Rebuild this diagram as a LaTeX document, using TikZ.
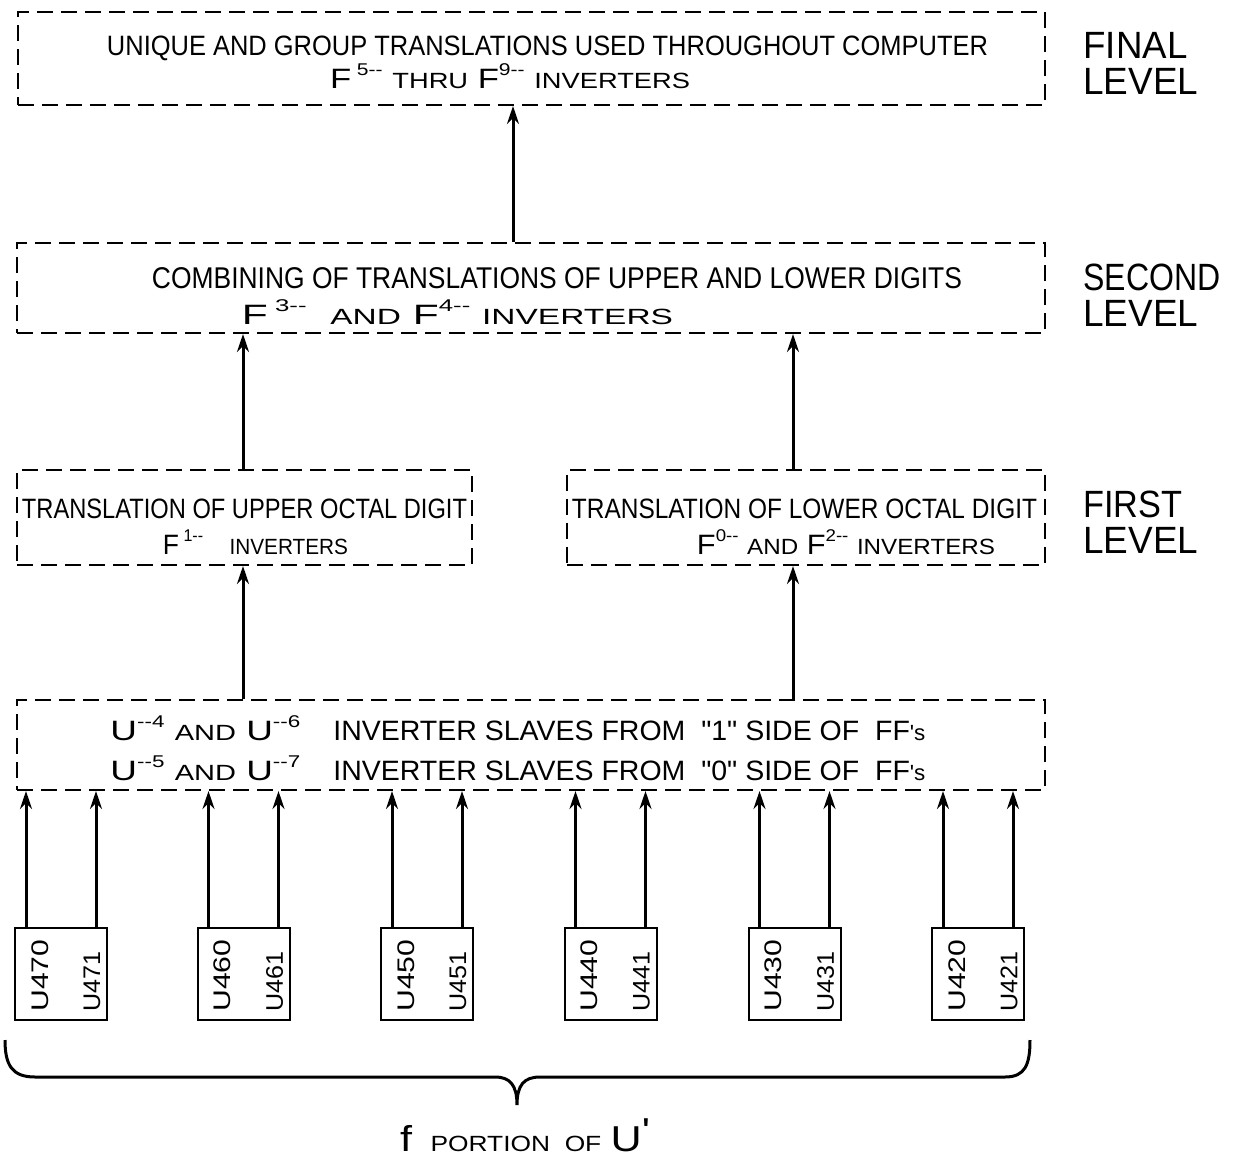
\documentclass[tikz,border=0pt]{standalone}
\usepackage{fontspec}
\setmainfont{Liberation Sans}
\newfontfamily\rawfont[Ligatures=TeXOff]{Liberation Sans}
\usepackage{graphicx}
\usetikzlibrary{arrows.meta}
\newcommand{\fitw}[2]{\resizebox{#1}{\height}{#2}}
\newcommand{\sm}[1]{{\fontsize{11}{12}\selectfont #1}}
\newcommand{\sps}[1]{\raisebox{0.45em}{\fontsize{8.5}{9}\selectfont #1}}
\newcommand{\dq}{{\rawfont"}}
\newcommand{\sq}{{\rawfont'}}
\tikzset{
  dbox/.style={draw, dash pattern=on 8pt off 4pt, line width=1pt, inner sep=0pt},
  chipbox/.style={draw, line width=1pt, inner sep=0pt, minimum width=46pt, minimum height=46pt},
  arr/.style={-{Stealth[length=9pt,width=6pt]}, line width=1.5pt},
  txt/.style={inner sep=0pt, anchor=base, font=\fontsize{14}{16}\selectfont},
  lvl/.style={inner sep=0pt, anchor=base west, font=\fontsize{19}{21}\selectfont},
  clabel/.style={inner sep=0pt, anchor=west, rotate=90, font=\fontsize{12}{13}\selectfont},
}
\begin{document}
\begin{tikzpicture}[x=0.5pt,y=-0.5pt]
\useasboundingbox (0,0) rectangle (1233,1158);

% boxes
\node[dbox, minimum width=513.5pt, minimum height=46.5pt] (fin) at (531.5,58.5) {};
\node[dbox, minimum width=514pt, minimum height=45pt] (sec) at (531,288) {};
\node[dbox, minimum width=227.5pt, minimum height=47.5pt] (f1l) at (244.5,517.5) {};
\node[dbox, minimum width=239pt, minimum height=47.5pt] (f1r) at (806,517.5) {};
\node[dbox, minimum width=514pt, minimum height=45pt] (bot) at (531,745) {};

% texts
\node[txt] (t1) at (547.5,55) {\fitw{440.5pt}{UNIQUE AND GROUP TRANSLATIONS USED THROUGHOUT COMPUTER}};
\node[txt] (t2) at (510,88) {\fitw{180pt}{F\,\sps{5-{}-} \sm{THRU} F\sps{9-{}-} \sm{INVERTERS}}};
\node[txt, font=\fontsize{15}{17}\selectfont] (t3) at (557,288) {\fitw{405pt}{COMBINING OF TRANSLATIONS OF UPPER AND LOWER DIGITS}};
\node[txt] (t4) at (457.5,324) {\fitw{215.5pt}{F\,\sps{3-{}-}\ \ \sm{AND} F\sps{4-{}-} \sm{INVERTERS}}};
\node[txt] (t5) at (244.5,518) {\fitw{222.5pt}{TRANSLATION OF UPPER OCTAL DIGIT}};
\node[txt] (t6) at (255.5,554) {\fitw{92.5pt}{F\,\sps{1-{}-}\quad \sm{INVERTERS}}};
\node[txt] (t7) at (804.5,518) {\fitw{232.5pt}{TRANSLATION OF LOWER OCTAL DIGIT}};
\node[txt] (t8) at (846,554) {\fitw{149pt}{F\sps{0-{}-} \sm{AND} F\sps{2-{}-} \sm{INVERTERS}}};
\node[txt, anchor=base west] (t9) at (110,740) {\fitw{95pt}{U\sps{-{}-4} \sm{AND} U\sps{-{}-6}}};
\node[txt, anchor=base west] (t10) at (333,740) {\fitw{296pt}{INVERTER SLAVES FROM \ \dq1\dq\ SIDE OF \ FF\sm{\sq s}}};
\node[txt, anchor=base west] (t11) at (110,780) {\fitw{95pt}{U\sps{-{}-5} \sm{AND} U\sps{-{}-7}}};
\node[txt, anchor=base west] (t12) at (333,780) {\fitw{296pt}{INVERTER SLAVES FROM \ \dq0\dq\ SIDE OF \ FF\sm{\sq s}}};

% level labels
\node[lvl] (l1a) at (1083,58) {\fitw{52pt}{FINAL}};
\node[lvl] (l1b) at (1083,94) {\fitw{57.5pt}{LEVEL}};
\node[lvl] (l2a) at (1083,290) {\fitw{68.5pt}{SECOND}};
\node[lvl] (l2b) at (1083,326) {\fitw{57.5pt}{LEVEL}};
\node[lvl] (l3a) at (1083,517) {\fitw{49.5pt}{FIRST}};
\node[lvl] (l3b) at (1083,553) {\fitw{57.5pt}{LEVEL}};

% arrows between levels
\coordinate (x0) at (513,0);
\coordinate (x1) at (243,0);
\coordinate (x2) at (793,0);
\draw[arr] (sec.north -| x0) -- (fin.south -| x0);
\draw[arr] (f1l.north -| x1) -- (sec.south -| x1);
\draw[arr] (f1r.north -| x2) -- (sec.south -| x2);
\draw[arr] (bot.north -| x1) -- (f1l.south -| x1);
\draw[arr] (bot.north -| x2) -- (f1r.south -| x2);

% chips
\foreach \i/\cx/\n in {1/61/7,2/243.5/6,3/427/5,4/610.5/4,5/794.5/3,6/978/2} {
  \node[chipbox] (c\i) at (\cx,974) {};
  \node[clabel] (cl\i) at (\cx-21,1012) {\fitw{36pt}{U4\n0}};
  \node[clabel] (cr\i) at (\cx+31,1012) {\fitw{30pt}{U4\n1}};
  \coordinate (ca\i) at (\cx-35,0);
  \coordinate (cb\i) at (\cx+35,0);
  \draw[arr] (c\i.north -| ca\i) -- (bot.south -| ca\i);
  \draw[arr] (c\i.north -| cb\i) -- (bot.south -| cb\i);
}

% brace
\draw[line width=1.5pt] (5,1040) .. controls (5,1065) and (12,1077) .. (35,1077) -- (495,1077)
  .. controls (510,1077) and (517,1085) .. (517,1105)
  .. controls (517,1085) and (524,1077) .. (540,1077) -- (1005,1077)
  .. controls (1025,1077) and (1030,1065) .. (1030,1040);

\node[txt] (fp) at (525,1151) {\fitw{125pt}{{\fontsize{18}{20}\selectfont f}\ \ \sm{PORTION\ \ OF} {\fontsize{18}{20}\selectfont U\raisebox{0.2em}{\sq}}}};
\end{tikzpicture}
\end{document}
